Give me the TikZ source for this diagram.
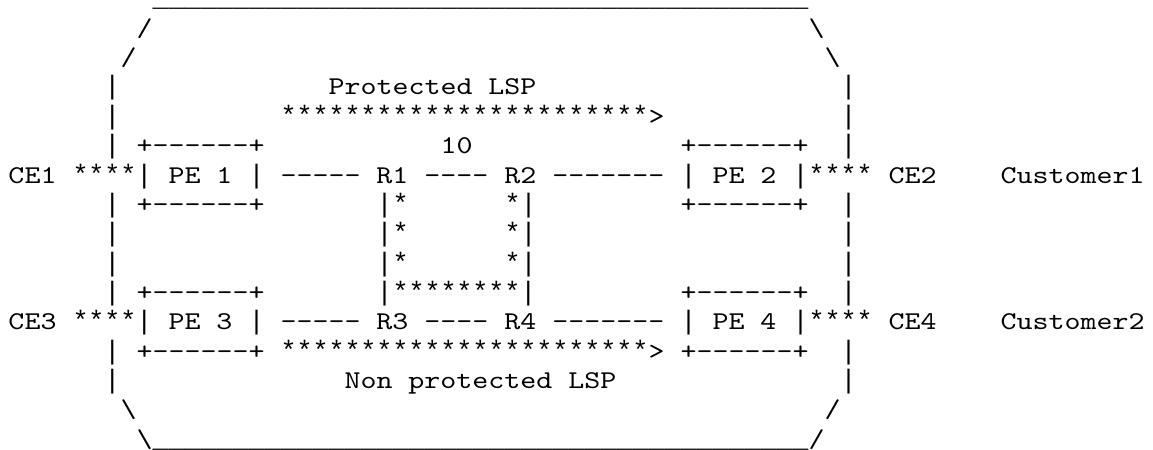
\documentclass[tikz,border=0pt]{standalone}
\usepackage{fontspec}
\setmonofont{lmmono10-regular.otf}[FakeStretch=1.1905]
\newfontfamily\lmono{Liberation Mono}
\ExplSyntaxOn
\cs_new:Npn \myrep #1#2 { \prg_replicate:nn {#1} {#2} }
\ExplSyntaxOff
\newcommand\bsl{\textbackslash}
\newcommand\symf{\lmono\fontsize{13.333pt}{14.667pt}\selectfont}
\newcommand\vb{{\symf|}}
\newcommand\us{{\symf\_}}
\newcommand\st{{\symf*}}
\begin{document}
\begin{tikzpicture}[x=1pt,y=1pt,
  ascii/.style={anchor=base west,inner sep=0pt,outer sep=0pt,text=black,
    font=\ttfamily\fontsize{12.8pt}{14.667pt}\selectfont}]
\fill[white] (0,0) rectangle (576.5,225);
\useasboundingbox (0,0) rectangle (576.5,225);
% column c, row r  ->  (4.25 + 8c , 221.5 - 14.667 r)
\newcommand\seg[4]{\node[ascii] (#1) at ({4.25+8*#2},{221.5-14.667*#3}) {#4};}
% row 0
\seg{topline}{9}{0}{\myrep{41}{\us}}
% row 1-2
\seg{tl1}{8}{1}{/}
\seg{tr1}{50}{1}{\bsl}
\seg{tl2}{7}{2}{/}
\seg{tr2}{51}{2}{\bsl}
% row 3
\seg{l3}{6}{3}{\vb}
\seg{plsp}{20}{3}{Protected LSP}
\seg{r3}{52}{3}{\vb}
% row 4
\seg{l4}{6}{4}{\vb}
\seg{parrow}{17}{4}{\myrep{23}{\st}>}
\seg{r4}{52}{4}{\vb}
% row 5
\seg{l5}{6}{5}{\vb}
\seg{pe1top}{8}{5}{+------+}
\seg{ten}{27}{5}{10}
\seg{pe2top}{42}{5}{+------+}
\seg{r5}{52}{5}{\vb}
% row 6
\seg{line1}{0}{6}{CE1 \st\st\st\st\vb{} PE 1 \vb{} ----- R1 ---- R2 ------- \vb{} PE 2 \vb\st\st\st\st{} CE2}
\seg{cust1}{62}{6}{Customer1}
% row 7
\seg{l7}{6}{7}{\vb}
\seg{pe1bot}{8}{7}{+------+}
\seg{sqa7}{23}{7}{\vb\st}
\seg{sqb7}{31}{7}{\st\vb}
\seg{pe2bot}{42}{7}{+------+}
\seg{r7}{52}{7}{\vb}
% row 8
\seg{l8}{6}{8}{\vb}
\seg{sqa8}{23}{8}{\vb\st}
\seg{sqb8}{31}{8}{\st\vb}
\seg{r8}{52}{8}{\vb}
% row 9
\seg{l9}{6}{9}{\vb}
\seg{sqa9}{23}{9}{\vb\st}
\seg{sqb9}{31}{9}{\st\vb}
\seg{r9}{52}{9}{\vb}
% row 10
\seg{l10}{6}{10}{\vb}
\seg{pe3top}{8}{10}{+------+}
\seg{sqbot}{23}{10}{\vb\myrep{8}{\st}\vb}
\seg{pe4top}{42}{10}{+------+}
\seg{r10}{52}{10}{\vb}
% row 11
\seg{line2}{0}{11}{CE3 \st\st\st\st\vb{} PE 3 \vb{} ----- R3 ---- R4 ------- \vb{} PE 4 \vb\st\st\st\st{} CE4}
\seg{cust2}{62}{11}{Customer2}
% row 12
\seg{l12}{6}{12}{\vb}
\seg{narrow}{8}{12}{+------+ \myrep{23}{\st}> +------+}
\seg{r12}{52}{12}{\vb}
% row 13
\seg{l13}{6}{13}{\vb}
\seg{nlsp}{21}{13}{Non protected LSP}
\seg{r13}{52}{13}{\vb}
% row 14-15
\seg{bl14}{7}{14}{\bsl}
\seg{br14}{51}{14}{/}
\seg{botline}{8}{15}{\bsl\myrep{41}{\us}/}
\end{tikzpicture}
\end{document}
